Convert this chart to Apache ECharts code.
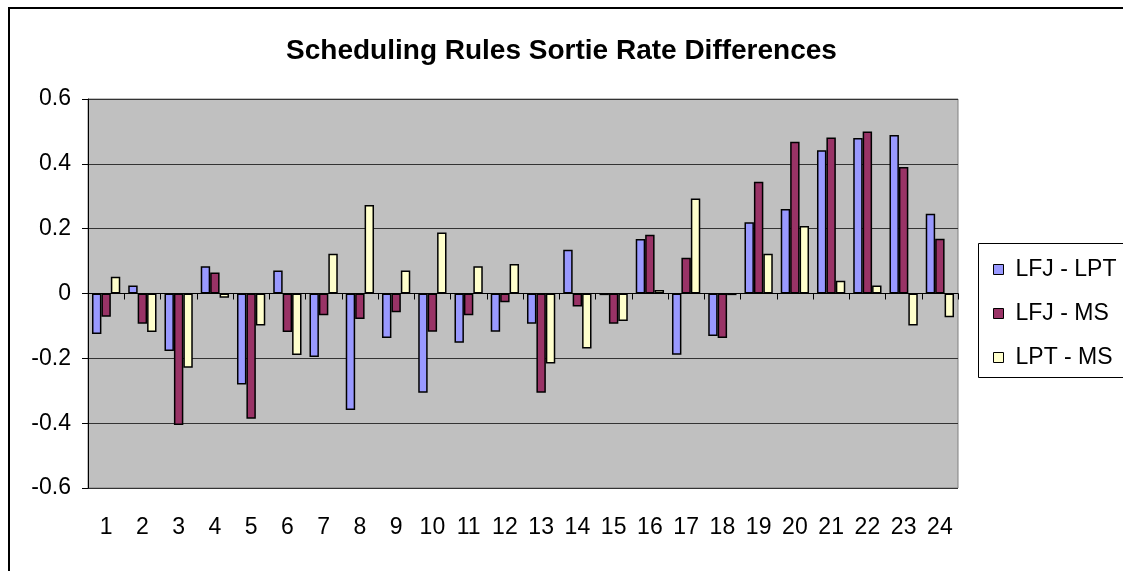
<!DOCTYPE html>
<html>
<head>
<meta charset="utf-8">
<script src="https://cdn.jsdelivr.net/npm/echarts@6/dist/echarts.min.js"></script>
<style>
  html, body { margin: 0; padding: 0; background: #fff; }
  #chart { width: 1123px; height: 571px; }
</style>
</head>
<body>
<div id="chart"></div>
<script>
var categories = ['1','2','3','4','5','6','7','8','9','10','11','12','13','14','15','16','17','18','19','20','21','22','23','24'];
var lfjLpt = [-0.125, 0.025, -0.177, 0.084, -0.281, 0.071, -0.196, -0.359, -0.137, -0.306, -0.152, -0.118,
              -0.093, 0.135, -0.005, 0.168, -0.189, -0.131, 0.22, 0.261, 0.442, 0.48, 0.489, 0.246];
var lfjMs = [-0.072, -0.093, -0.406, 0.065, -0.386, -0.119, -0.067, -0.079, -0.058, -0.118, -0.067, -0.027,
             -0.306, -0.04, -0.093, 0.181, 0.11, -0.137, 0.345, 0.468, 0.481, 0.5, 0.39, 0.169];
var lptMs = [0.052, -0.119, -0.229, -0.013, -0.099, -0.19, 0.123, 0.273, 0.071, 0.188, 0.084, 0.091,
             -0.216, -0.17, -0.085, 0.011, 0.293, -0.005, 0.123, 0.208, 0.039, 0.025, -0.099, -0.073];
var seriesNames = ['LFJ - LPT', 'LFJ - MS', 'LPT - MS'];
var colors = ['#9999FF', '#993366', '#FFFFCC'];

var chart = echarts.init(document.getElementById('chart'));
var font = 'Liberation Sans, Arial, sans-serif';

function bar(name, data, color) {
  return {
    name: name,
    type: 'bar',
    data: data,
    xAxisIndex: 0,
    barGap: '0%',
    barCategoryGap: '22%',
    itemStyle: { color: color, borderColor: '#000', borderWidth: 1.5 }
  };
}

var option = {
  backgroundColor: '#fff',
  animation: false,
  title: {
    text: 'Scheduling Rules Sortie Rate Differences',
    left: 'center',
    top: 32,
    textStyle: { fontFamily: font, fontSize: 28, fontWeight: 'bold', color: '#000' }
  },
  graphic: [
    { type: 'rect', shape: { x: 9, y: 8, width: 1300, height: 700 },
      style: { fill: 'none', stroke: '#000', lineWidth: 2 } },
    { type: 'rect', shape: { x: 978.5, y: 243.5, width: 200, height: 134 },
      style: { fill: '#fff', stroke: '#000', lineWidth: 1 }, z: 0 }
  ],
  legend: {
    orient: 'vertical',
    left: 988,
    top: 253,
    itemWidth: 10,
    itemHeight: 10,
    itemGap: 21,
    icon: 'rect',
    itemStyle: { borderColor: '#000', borderWidth: 1 },
    textStyle: { fontFamily: font, fontSize: 23, color: '#000', padding: [0, 0, 0, 7] },
    data: seriesNames
  },
  grid: {
    left: 88, top: 99, width: 870, height: 389,
    show: true, backgroundColor: '#C0C0C0', borderColor: '#808080', borderWidth: 1
  },
  xAxis: [
    {
      type: 'category',
      data: categories,
      position: 'bottom',
      axisLine: { show: false, onZero: false },
      axisTick: { show: false },
      axisLabel: { margin: 28, fontFamily: font, fontSize: 23, color: '#000' }
    },
    {
      type: 'category',
      data: categories,
      position: 'bottom',
      axisLine: { show: true, onZero: true, lineStyle: { color: '#000', width: 1 } },
      axisTick: { show: true, inside: false, length: 6, lineStyle: { color: '#000' } },
      axisLabel: { show: false }
    }
  ],
  yAxis: {
    type: 'value',
    min: -0.6,
    max: 0.6,
    interval: 0.2,
    axisLine: { show: true, lineStyle: { color: '#000', width: 1 } },
    axisTick: { show: true, length: 6, lineStyle: { color: '#000' } },
    splitLine: { show: true, lineStyle: { color: '#333', width: 1 } },
    axisLabel: {
      margin: 17,
      fontFamily: font, fontSize: 23, color: '#000',
      formatter: function (v) { return String(Math.round(v * 10) / 10); }
    }
  },
  series: [
    bar(seriesNames[0], lfjLpt, colors[0]),
    bar(seriesNames[1], lfjMs, colors[1]),
    bar(seriesNames[2], lptMs, colors[2])
  ]
};

chart.setOption(option);
</script>
</body>
</html>
